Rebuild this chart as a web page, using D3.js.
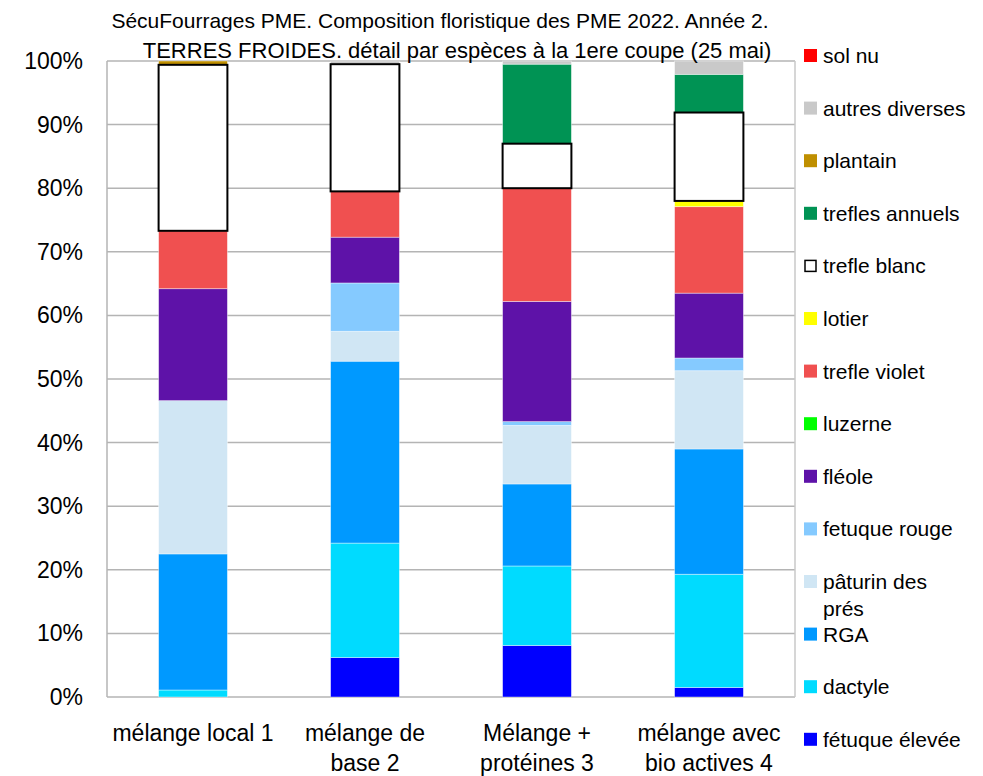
<!DOCTYPE html>
<html>
<head>
<meta charset="utf-8">
<script src="https://cdn.jsdelivr.net/npm/d3@7"></script>
<style>
  body { margin: 0; background: #fff; }
  text { font-family: "Liberation Sans", Arial, sans-serif; fill: #000; }
</style>
</head>
<body>
<div id="chart"></div>
<script>
// categories (x axis), lines split on "\n"
var categories = ["mélange local 1", "mélange de\nbase 2", "Mélange +\nprotéines 3", "mélange avec\nbio actives 4"];

// species, from the bottom of the stack upwards
var species = ["fétuque élevée", "dactyle", "RGA", "pâturin des prés", "fetuque rouge", "fléole", "luzerne",
               "trefle violet", "lotier", "trefle blanc", "trefles annuels", "plantain", "autres diverses", "sol nu"];

// % per species, one value per category
var fetuqueElevee  = [0,    6.2,  8.1,  1.5];
var dactyle        = [1.1,  18.0, 12.5, 17.8];
var rga            = [21.4, 28.6, 12.9, 19.7];
var paturin        = [24.1, 4.7,  9.2,  12.3];
var fetuqueRouge   = [0,    7.6,  0.6,  2.0];
var fleole         = [17.6, 7.2,  18.9, 10.2];
var luzerne        = [0,    0,    0,    0];
var trefleViolet   = [9.1,  7.2,  17.8, 13.6];
var lotier         = [0,    0,    0,    0.9];
var trefleBlanc    = [26.1, 20.0, 7.0,  13.9];
var treflesAnnuels = [0,    0,    12.5, 6.0];
var plantain       = [0.6,  0,    0,    0];
var autres         = [0,    0.5,  0.5,  2.1];
var solNu          = [0,    0,    0,    0];

var yTicks = [0, 10, 20, 30, 40, 50, 60, 70, 80, 90, 100];

var colors = ["#0000ff", "#00dbff", "#0099ff", "#d0e6f4", "#85caff", "#5e12a8", "#00ff00",
              "#f05050", "#ffff00", "#ffffff", "#009354", "#bf8f00", "#c9c9c9", "#ff0000"];

var series = [fetuqueElevee, dactyle, rga, paturin, fetuqueRouge, fleole, luzerne,
              trefleViolet, lotier, trefleBlanc, treflesAnnuels, plantain, autres, solNu];

var rows = categories.map(function(c, i) {
    var r = {cat: c};
    species.forEach(function(s, j) { r[s] = series[j][i]; });
    return r;
});

var W = 983, H = 776;
var margin = {top: 61, right: 188, bottom: 79, left: 107};
var width = W - margin.left - margin.right,
    height = H - margin.top - margin.bottom;

var svg = d3.select("#chart").append("svg")
    .attr("width", W).attr("height", H);

var x = d3.scaleBand().domain(categories).range([0, width])
    .paddingInner(0.6).paddingOuter(0.3);
var y = d3.scaleLinear().domain([0, 100]).range([height, 0]);
var color = d3.scaleOrdinal().domain(species).range(colors);

var g = svg.append("g")
    .attr("transform", "translate(" + margin.left + "," + margin.top + ")");

// grid
g.append("g").selectAll("line")
    .data(yTicks).enter().append("line")
    .attr("x1", 0).attr("x2", width)
    .attr("y1", function(d) { return y(d); })
    .attr("y2", function(d) { return y(d); })
    .attr("stroke", "#b4b4b4").attr("stroke-width", 1.5);

// left + right frame
g.append("line").attr("x1", 0).attr("x2", 0).attr("y1", 0).attr("y2", height)
    .attr("stroke", "#b4b4b4").attr("stroke-width", 1.5);
g.append("line").attr("x1", width).attr("x2", width).attr("y1", 0).attr("y2", height)
    .attr("stroke", "#c8c8c8").attr("stroke-width", 1.5);

// y labels
g.append("g").selectAll("text")
    .data(yTicks).enter().append("text")
    .attr("x", -24)
    .attr("y", function(d) { return y(d) + 8; })
    .attr("text-anchor", "end")
    .style("font-size", "23px")
    .text(function(d) { return d + "%"; });

var stacked = d3.stack().keys(species)(rows);

var layers = g.append("g").selectAll("g")
    .data(stacked).enter().append("g")
    .attr("fill", function(d) { return color(d.key); });

layers.selectAll("rect")
    .data(function(d) { return d.map(function(p) { p.key = d.key; return p; }); })
    .enter().append("rect")
    .filter(function(d) { return d[1] - d[0] > 0; })
    .attr("x", function(d) { return x(d.data.cat); })
    .attr("width", x.bandwidth())
    .attr("y", function(d) { return y(d[1]); })
    .attr("height", function(d) { return y(d[0]) - y(d[1]); })
    .attr("stroke", function(d) { return d.key == "trefle blanc" ? "#000" : "rgba(255,255,255,0.5)"; })
    .attr("stroke-width", function(d) { return d.key == "trefle blanc" ? 2 : 0.8; });

// bring trefle blanc outlines to front
layers.filter(function(d) { return d.key == "trefle blanc"; }).raise();

// x labels
var xl = g.append("g").selectAll("text")
    .data(categories).enter().append("text")
    .attr("x", function(d) { return x(d) + x.bandwidth() / 2; })
    .attr("y", height + 44)
    .attr("text-anchor", "middle")
    .style("font-size", "23px");
xl.selectAll("tspan")
    .data(function(d) { return d.split("\n"); })
    .enter().append("tspan")
    .attr("x", function() { var p = this.parentNode; return p.getAttribute("x"); })
    .attr("dy", function(d, i) { return i ? 30 : 0; })
    .text(function(d) { return d; });

// title
var title = svg.append("text")
    .attr("x", 440).attr("y", 28)
    .attr("text-anchor", "middle")
    .style("font-size", "21px");
title.append("tspan").attr("x", 440).text("SécuFourrages PME. Composition floristique des PME 2022. Année 2.");
title.append("tspan").attr("x", 457).attr("dy", 30).style("font-size", "22px")
    .text("TERRES FROIDES. détail par espèces à la 1ere coupe (25 mai)");

// legend, top = last species
var legendItems = species.slice().reverse();
var legend = svg.append("g").attr("transform", "translate(804,55)");
var li = legend.selectAll("g")
    .data(legendItems).enter().append("g")
    .attr("transform", function(d, i) { return "translate(0," + (i * 52.6) + ")"; });
li.append("rect")
    .attr("x", function(d) { return d == "trefle blanc" ? 1 : 0; })
    .attr("y", function(d) { return d == "trefle blanc" ? -5 : -6; })
    .attr("width", function(d) { return d == "trefle blanc" ? 11 : 13; })
    .attr("height", function(d) { return d == "trefle blanc" ? 11 : 13; })
    .attr("fill", function(d) { return color(d); })
    .attr("stroke", function(d) { return d == "trefle blanc" ? "#000" : "none"; })
    .attr("stroke-width", 1.5);
var lt = li.append("text")
    .attr("x", 19).attr("y", 8)
    .style("font-size", "21px");
lt.selectAll("tspan")
    .data(function(d) { return d == "pâturin des prés" ? ["pâturin des", "prés"] : [d]; })
    .enter().append("tspan")
    .attr("x", 19)
    .attr("dy", function(d, i) { return i ? 27 : 0; })
    .text(function(d) { return d; });
</script>
</body>
</html>
